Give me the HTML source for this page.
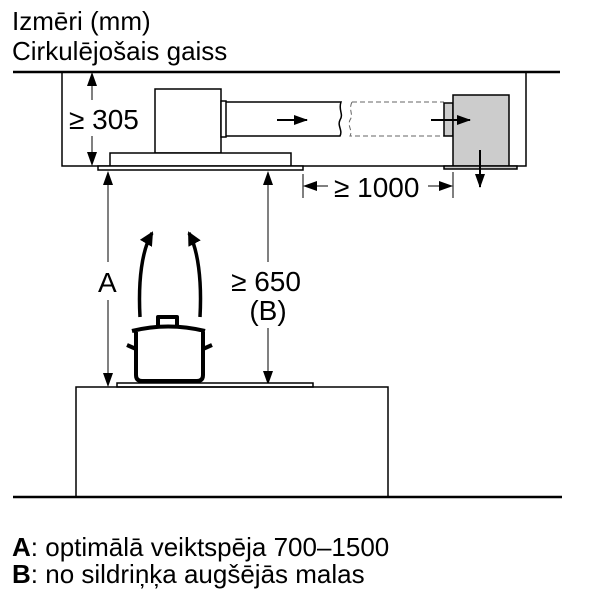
<!DOCTYPE html>
<html><head><meta charset="utf-8"><style>
html,body{margin:0;padding:0;background:#fff;}
svg{display:block;}
text{font-family:"Liberation Sans",Arial,sans-serif;fill:#000;}
</style></head><body>
<svg width="600" height="600" viewBox="0 0 600 600" xmlns="http://www.w3.org/2000/svg">
<defs>
<marker id="ah" markerWidth="14" markerHeight="10" refX="13" refY="5" orient="auto" markerUnits="userSpaceOnUse">
<path d="M0,0 L14,5 L0,10 z" fill="#000"/></marker>
<marker id="ahb" markerWidth="14" markerHeight="14" refX="12" refY="7" orient="auto" markerUnits="userSpaceOnUse">
<path d="M0,0 L14,7 L0,14 z" fill="#000"/></marker>
</defs>
<text x="12" y="30" font-size="26">Izmēri (mm)</text>
<text x="12" y="60" font-size="26">Cirkulējošais gaiss</text>

<g stroke="#000" fill="none" stroke-width="1.5">
<line x1="13" y1="72" x2="560" y2="72" stroke-width="2.5"/>
<polyline points="62,72 62,166 526,166 526,72"/>
<rect x="155" y="89" width="66" height="64" fill="#fff"/>
<rect x="221" y="101" width="5" height="36" fill="#fff"/>
<path d="M226,102 H341 C338,110 344,114 340,120 C337,126 343,130 340,136 H226"/>
<rect x="110" y="153" width="181" height="13" fill="#fff"/>
<rect x="98" y="166" width="205" height="4" fill="#fff"/>
<path d="M352,102 C348,110 354,114 350,120 C347,126 353,130 350,136 H444 M352,102 H444" stroke="#666" stroke-dasharray="5,3" stroke-width="1"/>
<rect x="444" y="103" width="9" height="33" fill="#ccc"/>
<rect x="453" y="95" width="56" height="71" fill="#ccc"/>
<rect x="444" y="166" width="73" height="3" fill="#ccc"/>
</g>
<g stroke="#000" stroke-width="2" fill="none">
<line x1="277" y1="120" x2="307" y2="120" marker-end="url(#ah)"/>
<line x1="431" y1="120" x2="470" y2="120" marker-end="url(#ah)"/>
<line x1="480" y1="150" x2="480" y2="187" marker-end="url(#ah)"/>
</g>
<g stroke="#000" stroke-width="1" fill="none">
<line x1="92" y1="100" x2="92" y2="73" marker-end="url(#ah)"/>
<line x1="92" y1="136" x2="92" y2="165" marker-end="url(#ah)"/>
<line x1="108" y1="262" x2="108" y2="172" marker-end="url(#ah)"/>
<line x1="108" y1="300" x2="108" y2="386" marker-end="url(#ah)"/>
<line x1="268" y1="262" x2="268" y2="172" marker-end="url(#ah)"/>
<line x1="268" y1="328" x2="268" y2="384" marker-end="url(#ah)"/>
<line x1="303" y1="174" x2="303" y2="198"/>
<line x1="453" y1="172" x2="453" y2="198"/>
<line x1="328" y1="186" x2="304" y2="186" marker-end="url(#ah)"/>
<line x1="428" y1="186" x2="452" y2="186" marker-end="url(#ah)"/>
</g>
<text x="69" y="129" font-size="28">≥ 305</text>
<text x="334" y="197" font-size="28">≥ 1000</text>
<text x="98" y="292" font-size="28">A</text>
<text x="266" y="291" font-size="28" text-anchor="middle">≥ 650</text>
<text x="268" y="320" font-size="28" text-anchor="middle">(B)</text>

<g stroke="#000" stroke-width="3.5" fill="none">
<path d="M140,317 C138,280 142,250 152,233" marker-end="url(#ahb)"/>
<path d="M200,317 C202,280 198,250 189,233" marker-end="url(#ahb)"/>
</g>
<g stroke="#000" stroke-width="4" fill="#fff" stroke-linejoin="round">
<rect x="158" y="317" width="19" height="10"/>
<path d="M132,331 Q168,322 205,331"/>
<path d="M136,332 V375 Q136,381 142,381 H197 Q203,381 203,375 V332"/>
<path d="M136,349 L127,345 M203,349 L212,345"/>
</g>
<g stroke="#000" fill="none" stroke-width="1.5">
<rect x="117" y="383" width="196" height="4" fill="#fff"/>
<rect x="76" y="387" width="312" height="110"/>
<line x1="13" y1="497" x2="562" y2="497" stroke-width="2.5"/>
</g>
<text x="12" y="556" font-size="26"><tspan font-weight="bold">A</tspan>: optimālā veiktspēja 700–1500</text>
<text x="12" y="583" font-size="26"><tspan font-weight="bold">B</tspan>: no sildriņķa augšējās malas</text>
</svg>
</body></html>
